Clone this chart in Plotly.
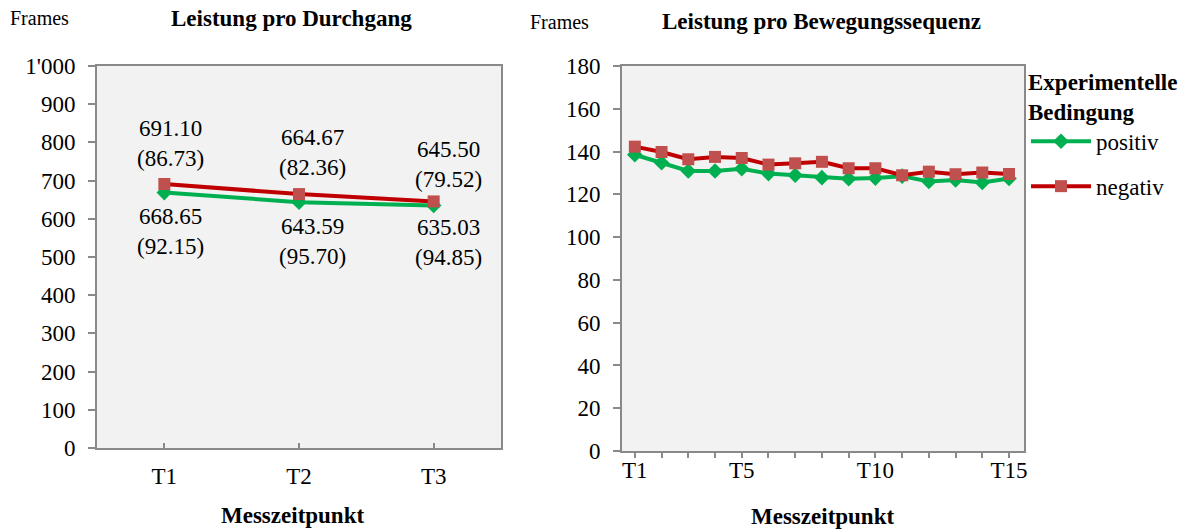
import plotly.graph_objects as go

# Left panel: mean frames per run (SD in parentheses)
runs = ["T1", "T2", "T3"]
run_pos = [668.65, 643.59, 635.03]
run_pos_sd = [92.15, 95.70, 94.85]
run_neg = [691.10, 664.67, 645.50]
run_neg_sd = [86.73, 82.36, 79.52]

# Right panel: mean frames per movement sequence
seqs = ["T%d" % i for i in range(1, 16)]
seq_pos = [138.5, 134.8, 130.9, 130.9, 132.0, 129.7, 128.9, 127.8, 127.3, 127.6,
           128.5, 126.0, 126.7, 125.5, 127.4]
seq_neg = [142.3, 139.8, 136.4, 137.5, 137.0, 133.9, 134.5, 135.2, 132.2, 132.2,
           128.9, 130.6, 129.4, 130.2, 129.5]
seq_ticklabels = ["T1", "", "", "", "T5", "", "", "", "", "T10", "", "", "", "", "T15"]

left_yticks = [0, 100, 200, 300, 400, 500, 600, 700, 800, 900, 1000]
left_yticktext = ["0", "100", "200", "300", "400", "500", "600", "700", "800", "900", "1'000"]

W, H = 1189, 531
FONT = "Liberation Serif"
GREEN = "#00b050"
RED_LINE = "#c00000"
RED_MARK = "#c0504d"
AXIS = "#898989"


def px(x):
    return x / W


def py(y):
    return 1 - y / H


fig = go.Figure()

# left panel traces
fig.add_trace(go.Scatter(x=runs, y=run_pos, mode="lines+markers", name="positiv",
                         line=dict(color=GREEN, width=4),
                         marker=dict(symbol="diamond", size=12, color=GREEN),
                         xaxis="x", yaxis="y", showlegend=False))
fig.add_trace(go.Scatter(x=runs, y=run_neg, mode="lines+markers", name="negativ",
                         line=dict(color=RED_LINE, width=4),
                         marker=dict(symbol="square", size=12, color=RED_MARK),
                         xaxis="x", yaxis="y", showlegend=False))

# right panel traces
fig.add_trace(go.Scatter(x=seqs, y=seq_pos, mode="lines+markers", name="positiv",
                         line=dict(color=GREEN, width=4),
                         marker=dict(symbol="diamond", size=12, color=GREEN),
                         xaxis="x2", yaxis="y2", legendgroup="a"))
fig.add_trace(go.Scatter(x=seqs, y=seq_neg, mode="lines+markers", name="negativ",
                         line=dict(color=RED_LINE, width=4),
                         marker=dict(symbol="square", size=12, color=RED_MARK),
                         xaxis="x2", yaxis="y2", legendgroup="b"))

annotations = []

# value labels on the left panel
label_dx = [6, 13, 15]
neg_dy = [11, 12, 7]
pos_dy = [9, 10, 8]
for i, cat in enumerate(runs):
    annotations.append(dict(x=cat, y=run_neg[i], xref="x", yref="y",
                            text="%.2f<br>(%.2f)" % (run_neg[i], run_neg_sd[i]),
                            showarrow=False, yanchor="bottom", xanchor="center",
                            xshift=label_dx[i], yshift=neg_dy[i],
                            font=dict(family=FONT, size=23, color="black")))
    annotations.append(dict(x=cat, y=run_pos[i], xref="x", yref="y",
                            text="%.2f<br>(%.2f)" % (run_pos[i], run_pos_sd[i]),
                            showarrow=False, yanchor="top", xanchor="center",
                            xshift=label_dx[i], yshift=-pos_dy[i],
                            font=dict(family=FONT, size=23, color="black")))


# titles and axis captions
def paper_text(text, x, y, size, bold=False, xanchor="center"):
    return dict(text="<b>%s</b>" % text if bold else text, x=px(x), y=py(y),
                xref="paper", yref="paper", showarrow=False,
                xanchor=xanchor, yanchor="middle",
                font=dict(family=FONT, size=size, color="black"))


annotations += [
    paper_text("Frames", 8, 18, 20, xanchor="left"),
    paper_text("Leistung pro Durchgang", 291, 18, 23, bold=True),
    paper_text("Frames", 528, 22, 20, xanchor="left"),
    paper_text("Leistung pro Bewegungssequenz", 821, 22, 23, bold=True),
    paper_text("Messzeitpunkt", 292, 515, 23, bold=True),
    paper_text("Messzeitpunkt", 822, 516, 23, bold=True),
]

axis_common = dict(showline=True, linecolor=AXIS, linewidth=2, mirror=True,
                   showgrid=False, zeroline=False, automargin=False,
                   ticks="outside", tickcolor=AXIS, tickwidth=2,
                   tickfont=dict(family=FONT, size=23, color="black"))

fig.update_layout(
    template="none",
    width=W, height=H,
    margin=dict(l=0, r=0, t=0, b=0, pad=0, autoexpand=False),
    paper_bgcolor="white",
    plot_bgcolor="#f2f2f2",
    font=dict(family=FONT, size=23, color="black"),
    xaxis=dict(axis_common, domain=[px(97), px(501)], anchor="y", type="category",
               range=[-0.5, 2.5], ticks="inside", ticklen=5, ticklabelstandoff=6),
    yaxis=dict(axis_common, domain=[py(448), py(66)], anchor="x", range=[0, 1000],
               tickvals=left_yticks, ticktext=left_yticktext, ticklen=7,
               ticklabelstandoff=8),
    xaxis2=dict(axis_common, domain=[px(622), px(1024)], anchor="y2", type="category",
                range=[-0.48, 14.56], tickvals=seqs, ticktext=seq_ticklabels,
                ticklen=5, ticklabelstandoff=-8),
    yaxis2=dict(axis_common, domain=[py(451), py(66)], anchor="x2", range=[0, 180],
                tickvals=list(range(0, 181, 20)), ticklen=7, ticklabelstandoff=8),
    legend=dict(x=px(1026), y=py(60), xanchor="left", yanchor="top",
                bgcolor="rgba(0,0,0,0)", borderwidth=0, itemwidth=60,
                traceorder="grouped", tracegroupgap=12,
                title=dict(text="<b>Experimentelle<br>Bedingung</b>",
                           font=dict(family=FONT, size=23, color="black")),
                font=dict(family=FONT, size=23, color="black")),
    annotations=annotations,
)

fig.write_html("out.html")
